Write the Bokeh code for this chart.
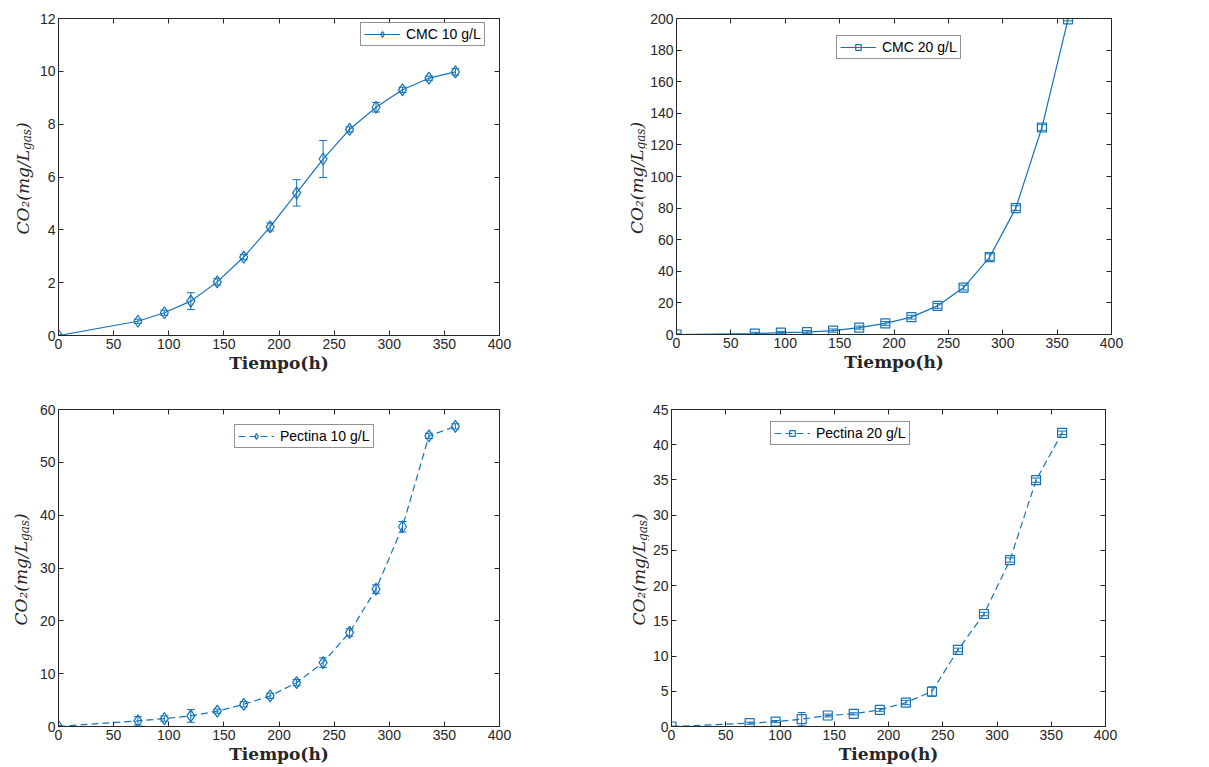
import math
from bokeh.plotting import figure
from bokeh.layouts import column, row
from bokeh.models import (Range1d, FixedTicker, LinearAxis, Whisker, TeeHead,
                          ColumnDataSource, Legend, LegendItem)
from bokeh.core.properties import value
from bokeh.embed import file_html
from bokeh.resources import INLINE

# ---------------- data ----------------
time_h = [0, 72, 96, 120, 144, 168, 192, 216, 240, 264, 288, 312, 336, 360]

cmc10 = [0, 0.54, 0.86, 1.30, 2.03, 2.97, 4.11, 5.40, 6.68, 7.80, 8.64, 9.30, 9.74, 9.98]
cmc10_err = [0.03, 0.08, 0.10, 0.32, 0.12, 0.10, 0.15, 0.50, 0.70, 0.10, 0.18, 0.10, 0.08, 0.12]

cmc20 = [0, 0.6, 1.2, 1.5, 2.5, 4.4, 7.0, 11.0, 18.1, 29.7, 49.0, 80.0, 131.0, 199.5]
cmc20_err = [0.5, 0.8, 0.8, 1.0, 1.0, 1.0, 1.2, 1.2, 1.5, 1.5, 2.0, 1.5, 2.0, 1.0]

pec10 = [0, 1.07, 1.5, 2.0, 2.9, 4.2, 5.8, 8.3, 12.1, 17.8, 26.0, 37.8, 55.0, 56.8]
pec10_err = [0.2, 0.8, 0.5, 1.2, 0.4, 0.5, 0.5, 0.6, 0.9, 0.7, 0.8, 1.0, 0.5, 0.5]

pec20 = [0, 0.47, 0.70, 1.04, 1.56, 1.80, 2.36, 3.40, 4.96, 10.87, 15.97, 23.63, 34.97, 41.68]
pec20_err = [0.05, 0.15, 0.15, 0.95, 0.20, 0.15, 0.20, 0.30, 0.65, 0.25, 0.25, 0.30, 0.30, 0.25]

x_ticks = [0, 50, 100, 150, 200, 250, 300, 350, 400]
cmc10_ticks = [0, 2, 4, 6, 8, 10, 12]
cmc20_ticks = [0, 20, 40, 60, 80, 100, 120, 140, 160, 180, 200]
pec10_ticks = [0, 10, 20, 30, 40, 50, 60]
pec20_ticks = [0, 5, 10, 15, 20, 25, 30, 35, 40, 45]

labels = ["CMC 10 g/L", "CMC 20 g/L", "Pectina 10 g/L", "Pectina 20 g/L"]
x_label = "Tiempo(h)"
y_label_parts = ["CO\u2082(mg/L", "gas", ")"]

C = "#1473b8"
AX = "#262626"
TICK_FONT = "Liberation Sans"


def ylabel_fig(w, cx, fh, bt, bb):
    """Narrow figure that only holds the rotated y-axis label."""
    q = figure(frame_width=w, frame_height=fh, min_border_left=0,
               min_border_right=0, min_border_top=bt, min_border_bottom=bb,
               x_range=Range1d(0, w), y_range=Range1d(0, fh),
               x_axis_location=None, y_axis_location=None,
               output_backend="svg", toolbar_location=None,
               background_fill_color="white", border_fill_color="white")
    q.grid.visible = False
    q.outline_line_color = None
    mid = fh / 2
    main, sub, close = y_label_parts
    q.text(x=[cx], y=[mid + 27], text=[main], angle=math.pi / 2,
           text_align="right", text_baseline="middle",
           text_font=value("DejaVu Serif"), text_font_style="italic",
           text_font_size="17px", text_color=AX)
    q.text(x=[cx + 4], y=[mid + 27], text=[sub], angle=math.pi / 2,
           text_align="left", text_baseline="middle",
           text_font=value("DejaVu Serif"), text_font_style="italic",
           text_font_size="12px", text_color=AX)
    q.text(x=[cx], y=[mid + 48], text=[close], angle=math.pi / 2,
           text_align="left", text_baseline="middle",
           text_font=value("DejaVu Serif"), text_font_style="italic",
           text_font_size="17px", text_color=AX)
    return q


def panel(y, err, marker, msize, dash, name, ymax, yticks,
          fw, fh, bl, br, bt, bb, leg_loc):
    p = figure(frame_width=fw, frame_height=fh,
               min_border_left=bl, min_border_right=br,
               min_border_top=bt, min_border_bottom=bb,
               x_range=Range1d(0, 400), y_range=Range1d(0, ymax),
               output_backend="svg", toolbar_location=None,
               background_fill_color="white", border_fill_color="white")
    p.grid.visible = False
    p.outline_line_color = AX
    p.outline_line_width = 1

    src = ColumnDataSource(dict(
        x=time_h, y=y,
        lo=[a - b for a, b in zip(y, err)],
        hi=[a + b for a, b in zip(y, err)]))

    w = Whisker(base="x", lower="lo", upper="hi", source=src,
                line_color=C, line_width=1,
                upper_head=TeeHead(size=8, line_color=C, line_width=1),
                lower_head=TeeHead(size=8, line_color=C, line_width=1))
    p.add_layout(w)
    ln = p.line("x", "y", source=src, line_color=C, line_width=1.2,
                line_dash=dash)
    sc = p.scatter("x", "y", source=src, marker=marker, size=msize,
                   line_color=C, fill_alpha=0, line_width=1.2)

    xa = p.xaxis[0]
    xa.ticker = FixedTicker(ticks=x_ticks)
    ya = p.yaxis[0]
    ya.ticker = FixedTicker(ticks=yticks)
    for a in (xa, ya):
        a.axis_line_color = AX
        a.major_tick_line_color = AX
        a.major_tick_in = 5
        a.major_tick_out = 0
        a.minor_tick_line_color = None
        a.major_label_text_font = TICK_FONT
        a.major_label_text_font_size = "14px"
        a.major_label_text_color = AX
        a.major_label_standoff = 3
    xa.axis_label = x_label
    xa.axis_label_text_font = "DejaVu Serif"
    xa.axis_label_text_font_style = "bold"
    xa.axis_label_text_font_size = "17px"
    xa.axis_label_text_color = AX
    xa.axis_label_standoff = 1

    top = LinearAxis(ticker=FixedTicker(ticks=x_ticks),
                     major_label_text_alpha=0, major_label_text_font_size="1px",
                     major_label_standoff=0,
                     major_tick_in=5, major_tick_out=0,
                     minor_tick_line_color=None,
                     axis_line_color=AX, major_tick_line_color=AX)
    right = LinearAxis(ticker=FixedTicker(ticks=yticks),
                       major_label_text_alpha=0, major_label_text_font_size="1px",
                       major_label_standoff=0,
                       major_tick_in=5, major_tick_out=0,
                       minor_tick_line_color=None,
                       axis_line_color=AX, major_tick_line_color=AX)
    p.add_layout(top, "above")
    p.add_layout(right, "right")

    leg = Legend(items=[LegendItem(label=name, renderers=[ln, sc])],
                 location=leg_loc,
                 border_line_color=AX, border_line_width=1,
                 background_fill_color="white", background_fill_alpha=1,
                 padding=3, margin=0, spacing=0,
                 label_text_font=TICK_FONT, label_text_font_size="14px",
                 label_text_color="black",
                 glyph_width=36, glyph_height=14, label_height=14,
                 label_standoff=6)
    p.add_layout(leg)
    return p


# top row (y 0..378)
l1 = ylabel_fig(36, 22, 317, 17, 44)
p1 = panel(cmc10, cmc10_err, "diamond", 12, "solid", labels[0], 12, cmc10_ticks,
           441, 317, 21, 102, 17, 44, (302, 289))
l2 = ylabel_fig(46, 35, 316, 18, 44)
p2 = panel(cmc20, cmc20_err, "square", 9, "solid", labels[1], 200, cmc20_ticks,
           435, 316, 27, 101, 18, 44, (160, 275))

# bottom row (y 378..766)
l3 = ylabel_fig(36, 20, 317, 31, 40)
p3 = panel(pec10, pec10_err, "diamond", 12, "7 4", labels[2], 60, pec10_ticks,
           441, 317, 19, 104, 31, 40, (176, 278))
l4 = ylabel_fig(46, 35, 317, 28, 43)
p4 = panel(pec20, pec20_err, "square", 9, "7 4", labels[3], 45, pec20_ticks,
           434, 317, 22, 107, 28, 43, (99, 281))

layout = column(row(l1, p1, l2, p2), row(l3, p3, l4, p4))
open("out.html", "w").write(file_html(layout, INLINE))
